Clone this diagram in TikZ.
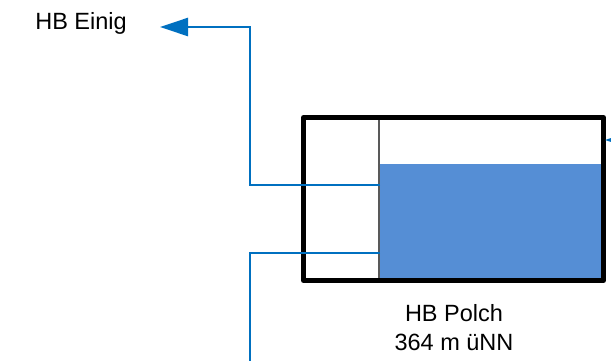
\documentclass[tikz,border=0pt]{standalone}
\usepackage{fontspec}
\setmainfont{Liberation Sans}
\usetikzlibrary{arrows.meta}

\definecolor{pipeblue}{RGB}{0,112,192}
\definecolor{waterblue}{RGB}{85,142,213}

\begin{document}
\begin{tikzpicture}[
    x=1pt,
    y=-1pt,
    pipe/.style={
        draw=pipeblue,
        line width=2.5pt,
    },
    pipetip/.style={
        -{Triangle[length=28pt,width=18pt]},
    },
    tank/.style={
        rectangle,
        draw,
        line width=5pt,
        line join=round,
        inner sep=0pt,
        minimum width=300pt,
        minimum height=163pt,
    },
    lbl/.style={
        font=\fontsize{23.5}{29}\selectfont,
        align=center,
        inner sep=0pt,
    },
]

\useasboundingbox (0,0) rectangle (611,360);
\clip (0,0) rectangle (611,360);

% water and tank
\fill[waterblue] (379,164) rectangle (601,278);
\node[tank] (polch) at (453.5,199) {};
\coordinate (divtop) at (379,120);
\coordinate (divbot) at (379,278);
\draw[gray!70!black, line width=1.2pt] (divtop) -- (divbot);

\node[lbl] (polchlbl) at (454,327.5) {HB Polch\\364 m üNN};
\node[lbl] (einig) at (81,23.5) {HB Einig};

\coordinate (outlet) at (380,185);
\coordinate (inlet) at (380,253);
\coordinate (einigin) at (160,27);
\coordinate (down) at (250,370);
\coordinate (farright) at (660,140);
\coordinate (rightin) at (605,140);

% pipes
\draw[pipe, pipetip] (outlet) -- (250,185) -- (250,27) -- (einigin);
\draw[pipe] (inlet) -- (250,253) -- (down);
\draw[pipe, pipetip] (farright) -- (rightin);

\end{tikzpicture}
\end{document}
